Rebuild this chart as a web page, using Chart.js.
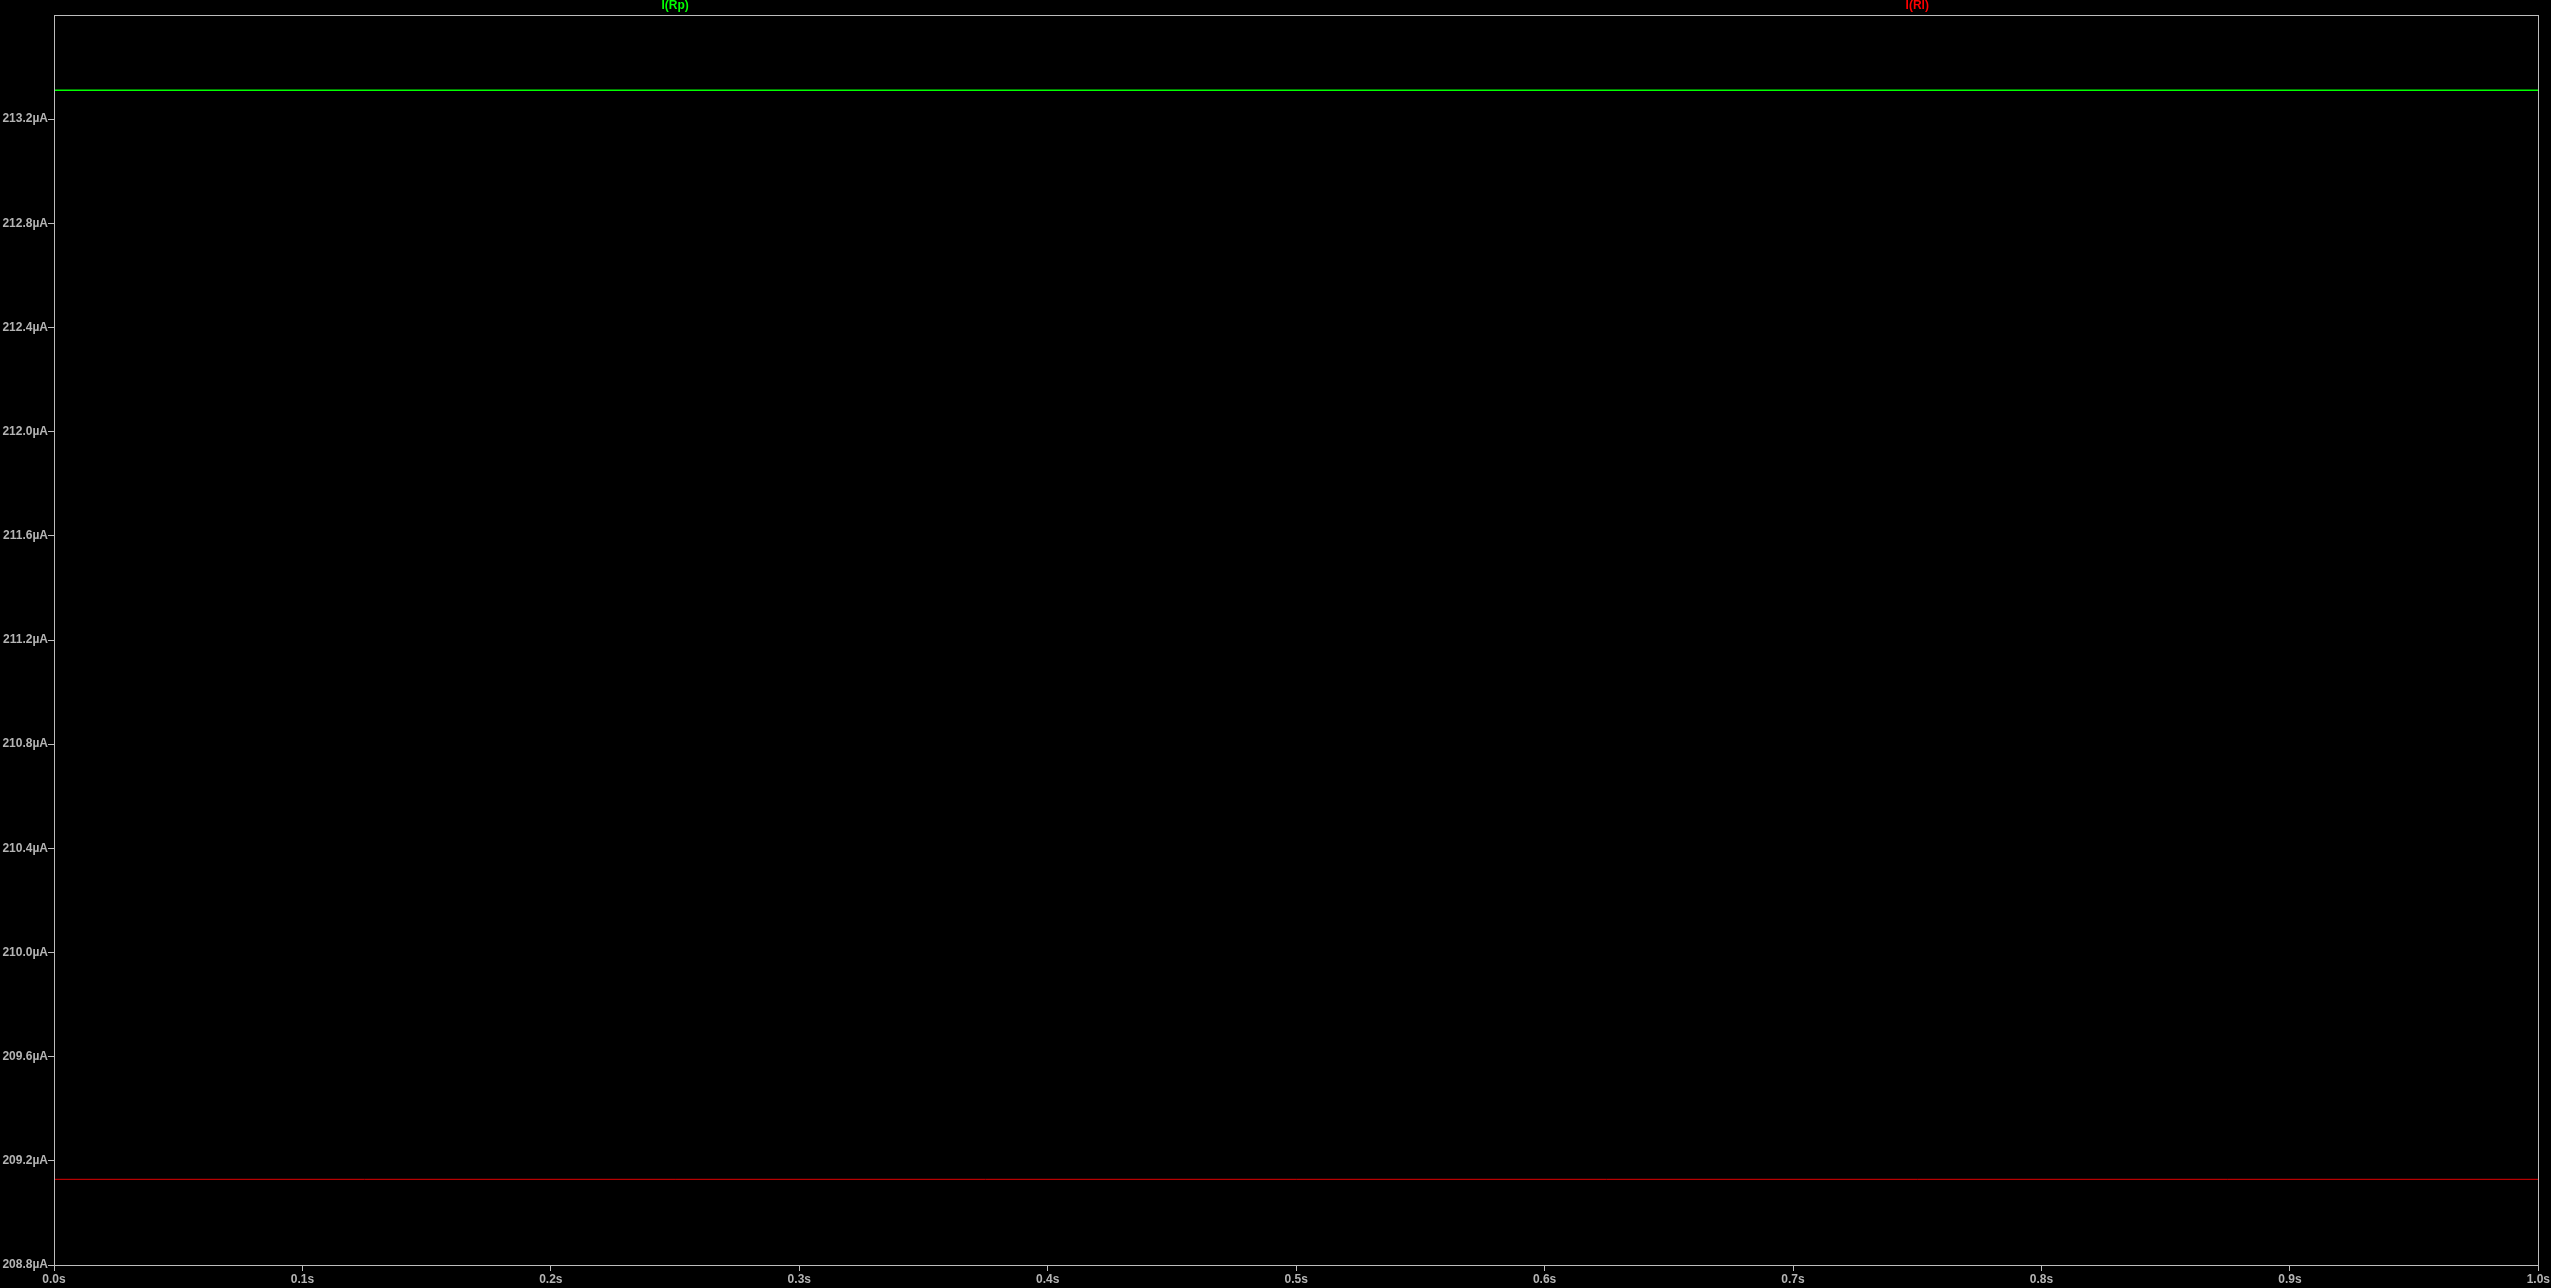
<!DOCTYPE html>
<html>
<head>
<meta charset="utf-8">
<script src="https://cdn.jsdelivr.net/npm/chart.js@4/dist/chart.umd.min.js"></script>
<style>
html,body{margin:0;padding:0;background:#000;}
#wrap{width:2551px;height:1288px;position:relative;}
</style>
</head>
<body>
<div id="wrap"><canvas id="c" width="2551" height="1288"></canvas></div>
<script>
// Data
const times = [0.0, 1.0];                  // seconds
const iRp = [213.311, 213.311];            // µA
const iRl = [209.129, 209.129];            // µA
const seriesNames = ['I(Rp)', 'I(Rl)'];
const seriesColors = ['#00ff00', '#ff0000'];
const yMin = 208.8, yMax = 213.6, yStep = 0.4;
const xMin = 0.0, xMax = 1.0, xStep = 0.1;

const axisGrey = '#bdbdbd';
const labelGrey = '#b4b4b4';
const fontFam = '"Liberation Sans", Arial, sans-serif';

const framePlugin = {
  id: 'frame',
  afterDraw(chart) {
    const {ctx, chartArea: a} = chart;
    ctx.save();
    ctx.strokeStyle = axisGrey;
    ctx.lineWidth = 1;
    ctx.strokeRect(Math.round(a.left) + 0.5, Math.round(a.top) + 0.5,
                   Math.round(a.right - a.left), Math.round(a.bottom - a.top));
    // legend labels
    ctx.font = 'bold 12px ' + fontFam;
    ctx.textAlign = 'center';
    ctx.textBaseline = 'middle';
    const w = a.right - a.left;
    seriesNames.forEach((n, i) => {
      ctx.fillStyle = seriesColors[i];
      ctx.fillText(n, a.left + w * (0.25 + 0.5 * i), 6);
    });
    ctx.restore();
  }
};

new Chart(document.getElementById('c'), {
  type: 'line',
  data: {
    datasets: [
      { label: seriesNames[0], data: times.map((t, i) => ({x: t, y: iRp[i]})),
        borderColor: seriesColors[0], borderWidth: 1.5, pointRadius: 0, fill: false },
      { label: seriesNames[1], data: times.map((t, i) => ({x: t, y: iRl[i]})),
        borderColor: '#e00000', borderWidth: 1, pointRadius: 0, fill: false }
    ]
  },
  options: {
    responsive: false,
    animation: false,
    devicePixelRatio: 1,
    layout: { padding: { top: 15, right: 11, left: 0, bottom: 0 } },
    plugins: { legend: { display: false }, tooltip: { enabled: false } },
    scales: {
      x: {
        type: 'linear', min: xMin, max: xMax,
        grid: { drawOnChartArea: false, drawTicks: true, tickLength: 6, color: axisGrey },
        border: { display: false },
        ticks: {
          stepSize: xStep, color: labelGrey, padding: 1, maxRotation: 0, autoSkip: false,
          font: { family: fontFam, size: 12, weight: 'bold' },
          callback: v => v.toFixed(1) + 's'
        },
        afterFit: s => { s.height = 23; }
      },
      y: {
        type: 'linear', min: yMin, max: yMax,
        grid: { drawOnChartArea: false, drawTicks: true, tickLength: 6,
                color: ctx => (ctx.tick && Math.abs(ctx.tick.value - yMax) < 1e-6) ? 'rgba(0,0,0,0)' : axisGrey },
        border: { display: false },
        ticks: {
          stepSize: yStep, color: labelGrey, padding: 0, autoSkip: false,
          font: { family: fontFam, size: 12, weight: 'bold' },
          callback: v => Math.abs(v - yMax) < 1e-6 ? '' : v.toFixed(1) + 'µA'
        },
        afterFit: s => { s.width = 54; }
      }
    }
  },
  plugins: [framePlugin]
});
</script>
</body>
</html>
